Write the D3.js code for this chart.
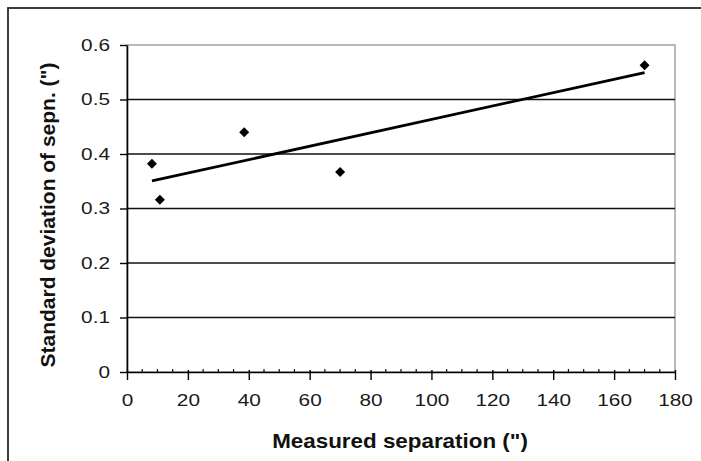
<!DOCTYPE html>
<html>
<head>
<meta charset="utf-8">
<script src="https://cdn.jsdelivr.net/npm/d3@7"></script>
<style>
  html, body { margin: 0; padding: 0; background: #fff; }
  svg { display: block; font-family: "Liberation Sans", Arial, sans-serif; }
</style>
</head>
<body>
<svg id="chart" width="701" height="461"></svg>
<script>
// ---- data ----
const separation = [8.2, 10.8, 38.5, 70, 170];       // measured separation (")
const stdDev     = [0.382, 0.316, 0.440, 0.367, 0.563]; // standard deviation of sepn. (")
const xTicks = [0, 20, 40, 60, 80, 100, 120, 140, 160, 180];
const yTicks = [0, 0.1, 0.2, 0.3, 0.4, 0.5, 0.6];
const xTitle = "Measured separation (\")";
const yTitle = "Standard deviation of sepn. (\")";

const points = separation.map((x, i) => ({ x, y: stdDev[i] }));

// ---- layout ----
const svg = d3.select("#chart");
const pL = 127, pR = 675, pT = 45, pB = 372;

const x = d3.scaleLinear().domain([0, 180]).range([pL, pR]);
const y = d3.scaleLinear().domain([0, 0.6]).range([pB, pT]);

// outer chart frame
svg.append("rect")
  .attr("x", 8).attr("y", 8).attr("width", 720).attr("height", 480)
  .attr("fill", "none").attr("stroke", "#2a2a2a").attr("stroke-width", 1.8);

// plot area border (top/right, grey)
svg.append("rect")
  .attr("x", pL).attr("y", pT).attr("width", pR - pL).attr("height", pB - pT)
  .attr("fill", "none").attr("stroke", "#8a8a8a").attr("stroke-width", 1.2);

// gridlines
svg.append("g").selectAll("line").data(yTicks.filter(d => d > 0 && d < 0.6)).join("line")
  .attr("x1", pL).attr("x2", pR)
  .attr("y1", d => y(d)).attr("y2", d => y(d))
  .attr("stroke", "#111").attr("stroke-width", 1.6);

// x minor ticks
const minor = d3.range(0, 181, 5).filter(d => d % 20 !== 0);
svg.append("g").selectAll("line").data(minor).join("line")
  .attr("x1", d => x(d)).attr("x2", d => x(d))
  .attr("y1", pB - 3).attr("y2", pB + 1)
  .attr("stroke", "#111").attr("stroke-width", 1.2);

// x axis
const gx = svg.append("g").attr("transform", `translate(0,${pB})`)
  .call(d3.axisBottom(x).tickValues(xTicks).tickSize(8).tickPadding(15).tickSizeOuter(0));
gx.select(".domain").attr("stroke", "#000").attr("stroke-width", 1.6);
gx.selectAll(".tick line").attr("stroke", "#000").attr("stroke-width", 1.4).attr("y1", -2);
gx.selectAll(".tick text")
  .attr("font-size", 16).attr("fill", "#1a1a1a")
  .attr("font-family", "Liberation Sans, Arial, sans-serif")
  .attr("transform", "scale(1.3,1)");

// y axis
const gy = svg.append("g").attr("transform", `translate(${pL},0)`)
  .call(d3.axisLeft(y).tickValues(yTicks).tickFormat(d3.format("")).tickSize(7).tickPadding(10).tickSizeOuter(0));
gy.select(".domain").attr("stroke", "#000").attr("stroke-width", 1.6);
gy.selectAll(".tick line").attr("stroke", "#000").attr("stroke-width", 1.4);
gy.selectAll(".tick text")
  .attr("font-size", 16).attr("fill", "#1a1a1a")
  .attr("font-family", "Liberation Sans, Arial, sans-serif")
  .attr("x", -17 / 1.3)
  .attr("transform", "scale(1.3,1)");

// trend line (least-squares fit through the points)
const mx = d3.mean(points, d => d.x), my = d3.mean(points, d => d.y);
const slope = d3.sum(points, d => (d.x - mx) * (d.y - my)) / d3.sum(points, d => (d.x - mx) ** 2);
const icpt = my - slope * mx;
const xExt = d3.extent(points, d => d.x);
const fit = xExt.map(v => ({ x: v, y: icpt + slope * v }));
svg.append("path").datum(fit)
  .attr("d", d3.line().x(d => x(d.x)).y(d => y(d.y)))
  .attr("fill", "none").attr("stroke", "#000").attr("stroke-width", 2.8);

// markers (diamonds)
svg.append("g").selectAll("path").data(points).join("path")
  .attr("d", d3.symbol(d3.symbolSquare, 50))
  .attr("transform", d => `translate(${x(d.x)},${y(d.y)}) rotate(45)`)
  .attr("fill", "#000");

// axis titles
svg.append("text")
  .attr("transform", `translate(400,448) scale(1.12,1)`)
  .attr("text-anchor", "middle")
  .attr("font-size", 20).attr("font-weight", "bold").attr("fill", "#111")
  .text(xTitle);

svg.append("text")
  .attr("transform", `translate(55,215) rotate(-90) scale(1.05,1)`)
  .attr("text-anchor", "middle")
  .attr("font-size", 20).attr("font-weight", "bold").attr("fill", "#111")
  .text(yTitle);
</script>
</body>
</html>
